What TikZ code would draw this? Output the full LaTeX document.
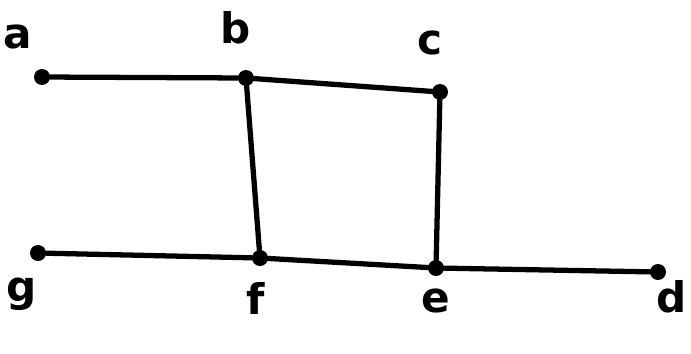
\documentclass[tikz,border=0pt]{standalone}
\usepackage{fontspec}
\setmainfont{DejaVu Sans}
\usetikzlibrary{positioning}

\begin{document}
\begin{tikzpicture}[
 vtx/.style={circle,fill=black,inner sep=0pt,minimum size=0.32cm},
 lbl/.style={font=\fontsize{24}{28}\selectfont\bfseries,inner sep=0pt},
 e/.style={line width=3pt,line cap=round}]
\useasboundingbox (0,0) rectangle (13.82,7.06);
% vertices
\node[vtx] (a) at (0.84,5.52) {};
\node[vtx] (b) at (4.92,5.50) {};
\node[vtx] (c) at (8.80,5.22) {};
\node[vtx] (g) at (0.76,2.00) {};
\node[vtx] (f) at (5.20,1.90) {};
\node[vtx] (e) at (8.72,1.70) {};
\node[vtx] (d) at (13.16,1.62) {};
% labels
\node[lbl] (la) at (0.36,6.32) {a};
\node[lbl] (lb) at (4.72,6.50) {b};
\node[lbl] (lc) at (8.60,6.20) {c};
\node[lbl] (lg) at (0.44,1.18) {g};
\node[lbl] (lf) at (5.12,1.10) {f};
\node[lbl] (le) at (8.72,1.04) {e};
\node[lbl] (ld) at (13.44,1.12) {d};
% edges
\draw[e] (a)--(b); \draw[e] (b)--(c);
\draw[e] (b)--(f); \draw[e] (c)--(e);
\draw[e] (g)--(f); \draw[e] (f)--(e); \draw[e] (e)--(d);
\end{tikzpicture}
\end{document}
